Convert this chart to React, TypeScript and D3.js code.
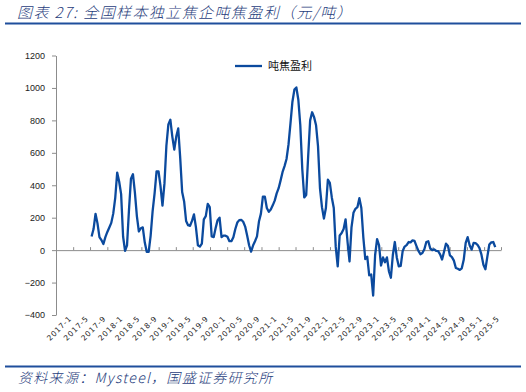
import React, { useRef, useEffect } from 'react';
import * as d3 from 'd3';

const title = '图表 27: 全国样本独立焦企吨焦盈利（元/吨）';
const source = '资料来源：Mysteel，国盛证券研究所';
const seriesName = '吨焦盈利';

// biweekly observations, first one on 2017-05-12
const startDate = '2017-05-12';
const stepDays = 14;
const profit = [
  84, 130, 224, 165, 80, 62, 38, 80, 112, 140,
  168, 225, 320, 478, 423, 345, 84, -5, 30, 250,
  440, 468, 355, 210, 115, 135, 140, 48, -10, -10,
  90, 240, 350, 485, 485, 395, 275, 410, 645, 775,
  804, 700, 620, 700, 750, 570, 358, 300, 180, 154,
  150, 180, 220, 140, 30, 22, 40, 190, 210, 285,
  265, 84, 80, 136, 185, 200, 80, 90, 89, 82,
  55, 55, 80, 130, 170, 185, 187, 175, 145, 90,
  30, -9, 28, 55, 85, 176, 225, 330, 330, 260,
  236, 250, 276, 305, 350, 382, 430, 482, 518, 562,
  650, 780, 915, 990, 1003, 927, 770, 500, 325, 340,
  580, 800, 850, 820, 770, 640, 380, 265, 195, 260,
  434, 415, 325, 260, 20, -100, 90, 105, 130, 190,
  50, -70, 140, 230, 255, 265, 320, 260, 80, -55,
  -40, -155, -150, -280, -30, 68, 30, -95, -45, -75,
  -45, -130, -170, -30, 50, -45, -100, -97, -5, 22,
  31, 50, 48, 60, 57, 25, -5, -25, -18, 5,
  50, 55, 10, 0, 5, -5, -6, -26, -58, -10,
  40, 25, -33, -43, -65, -110, -115, -122, -112, -60,
  45, 80, 30, 3, 44, 43, 33, 12, -28, -90,
  -118, -40, 35, 48, 50, 18,
];

const xTickLabels = [
  '2017-1', '2017-5', '2017-9', '2018-1', '2018-5', '2018-9',
  '2019-1', '2019-5', '2019-9', '2020-1', '2020-5', '2020-9',
  '2021-1', '2021-5', '2021-9', '2022-1', '2022-5', '2022-9',
  '2023-1', '2023-5', '2023-9', '2024-1', '2024-5', '2024-9',
  '2025-1', '2025-5',
];
const yTicks = [-400, -200, 0, 200, 400, 600, 800, 1000, 1200];

const App: React.FC = () => {
  const ref = useRef<SVGSVGElement>(null);

  useEffect(() => {
    if (!ref.current) return;
    const svg = d3.select(ref.current);
    svg.selectAll('*').remove();

    const W = 526;
    const blue = '#1F4E9C';
    const lineBlue = '#0B4A9E';
    const axisGray = '#8C8C8C';
    const cjk = '"Noto Sans CJK SC", "Noto Sans", sans-serif';

    const parse = d3.timeParse('%Y-%m-%d');
    const start = parse(startDate) as Date;
    const data = profit.map((v, i) => ({ date: d3.timeDay.offset(start, i * stepDays), value: v }));
    const tickDates = xTickLabels.map(l => {
      const [yy, mm] = l.split('-').map(Number);
      return new Date(yy, mm - 1, 1);
    });

    const x = d3.scaleTime()
      .domain([new Date(2016, 8, 1), new Date(2025, 4, 1)])
      .range([56, 501]);
    const y = d3.scaleLinear().domain([-400, 1200]).range([315, 55.5]);

    // title + rule
    svg.append('text')
      .attr('x', 17).attr('y', 18)
      .attr('font-family', cjk).attr('font-size', 15).attr('font-style', 'italic')
      .attr('font-weight', 300)
      .attr('letter-spacing', 1.4)
      .attr('fill', '#1F3D7C')
      .text(title);
    svg.append('line')
      .attr('x1', 5).attr('x2', W - 5).attr('y1', 23.5).attr('y2', 23.5)
      .attr('stroke', blue).attr('stroke-width', 2);

    // y axis
    const gy = svg.append('g')
      .attr('transform', 'translate(56,0)')
      .call(d3.axisLeft(y).tickValues(yTicks).tickSize(4).tickSizeOuter(0).tickPadding(7)
        .tickFormat(d3.format('d')));
    gy.select('.domain').attr('stroke', axisGray);
    gy.selectAll('.tick line').attr('stroke', axisGray);
    gy.selectAll('.tick text')
      .attr('font-family', '"Liberation Sans", Arial, sans-serif')
      .attr('font-size', 9).attr('fill', '#222');

    // x axis on the zero line, ticks pointing up
    const gx = svg.append('g')
      .attr('transform', `translate(0,${y(0)})`)
      .call(d3.axisTop(x).tickValues(tickDates).tickSize(3).tickSizeOuter(0).tickFormat(() => ''));
    gx.select('.domain').attr('stroke', axisGray);
    gx.selectAll('.tick line').attr('stroke', axisGray);

    // rotated date labels below the plot
    svg.append('g')
      .selectAll('text')
      .data(tickDates)
      .enter()
      .append('text')
      .attr('transform', (d) => `translate(${x(d) - 1},319) rotate(-45)`)
      .attr('text-anchor', 'end')
      .attr('font-family', '"DejaVu Sans", sans-serif')
      .attr('font-size', 7.5)
      .attr('letter-spacing', 0.8)
      .attr('fill', '#222')
      .text((_, i) => xTickLabels[i]);

    // series
    const line = d3.line<{ date: Date; value: number }>()
      .x(d => x(d.date))
      .y(d => y(d.value));
    svg.append('path')
      .datum(data)
      .attr('d', line)
      .attr('fill', 'none')
      .attr('stroke', lineBlue)
      .attr('stroke-width', 2.3)
      .attr('stroke-linejoin', 'round');

    // legend
    svg.append('line')
      .attr('x1', 235).attr('x2', 262).attr('y1', 66).attr('y2', 66)
      .attr('stroke', lineBlue).attr('stroke-width', 2.3);
    svg.append('text')
      .attr('x', 268).attr('y', 70)
      .attr('font-family', cjk).attr('font-size', 11).attr('fill', '#111')
      .text(seriesName);

    // source + rule
    svg.append('line')
      .attr('x1', 5).attr('x2', W - 5).attr('y1', 366.5).attr('y2', 366.5)
      .attr('stroke', blue).attr('stroke-width', 2);
    svg.append('text')
      .attr('x', 18).attr('y', 383)
      .attr('font-family', cjk).attr('font-size', 14).attr('font-style', 'italic')
      .attr('font-weight', 300)
      .attr('letter-spacing', 1.3)
      .attr('fill', '#1F3D7C')
      .text(source);
  }, []);

  return (
    <svg
      ref={ref}
      width={526}
      height={392}
      style={{ position: 'absolute', left: 0, top: 0, background: '#fff' }}
    />
  );
};

export default App;
